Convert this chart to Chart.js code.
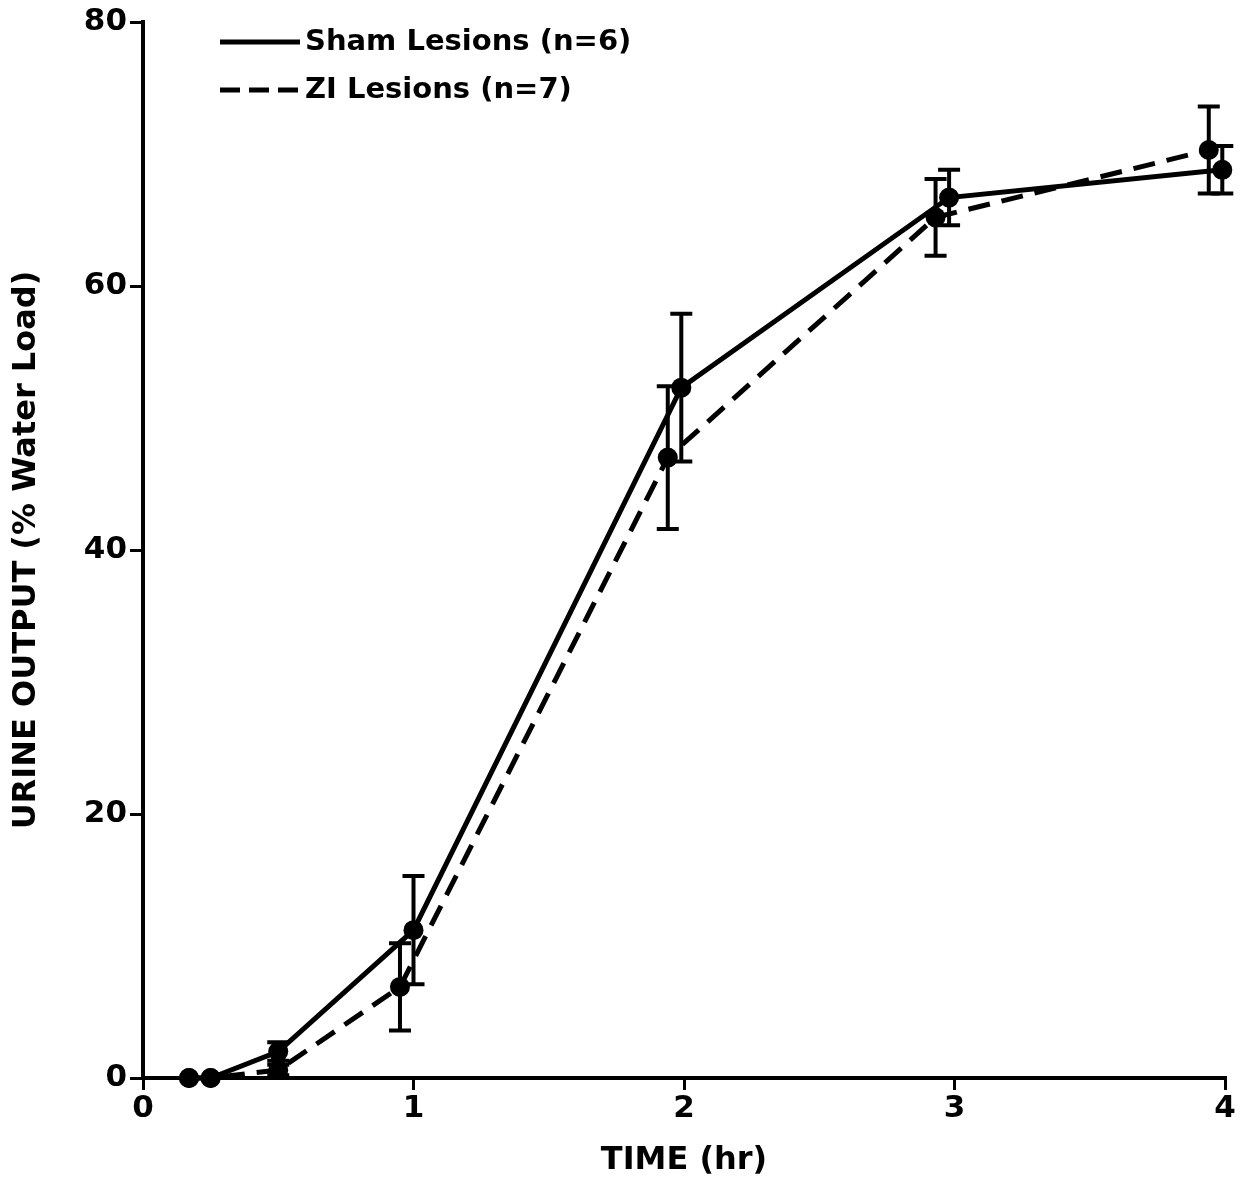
<!DOCTYPE html>
<html>
<head>
<meta charset="utf-8">
<script src="https://cdn.jsdelivr.net/npm/chart.js@4.4.0/dist/chart.umd.min.js"></script>
<style>
  html, body { margin: 0; padding: 0; background: #fff; }
  #wrap { width: 1241px; height: 1184px; }
</style>
</head>
<body>
<div id="wrap"><canvas id="chart"></canvas></div>
<script>
// values (time in hr, output in % water load)
const shamX   = [0.17, 0.25, 0.5, 1.0, 1.99, 2.98, 3.99];
const shamY   = [0, 0, 2.0, 11.2, 52.3, 66.7, 68.8];
const shamErr = [0, 0, 0.7, 4.1, 5.6, 2.1, 1.8];

const ziX   = [0.17, 0.25, 0.5, 0.95, 1.94, 2.93, 3.94];
const ziY   = [0, 0, 0.6, 6.9, 47.0, 65.2, 70.3];
const ziErr = [0, 0, 0.4, 3.3, 5.4, 2.9, 3.3];

const xTicks = [0, 1, 2, 3, 4];
const yTicks = [0, 20, 40, 60, 80];

const seriesNames = ['Sham Lesions (n=6)', 'ZI Lesions (n=7)'];

const FONT = '"DejaVu Sans", "Liberation Sans", sans-serif';
const INK = '#000';

function pts(xs, ys){ return xs.map((x, i) => ({ x: x, y: ys[i] })); }

// vertical error bars with caps, drawn through the scales
const errorBars = {
  id: 'errorBars',
  afterDatasetsDraw(chart){
    const ctx = chart.ctx;
    const xs = chart.scales.x, ys = chart.scales.y;
    chart.data.datasets.forEach(ds => {
      if (!ds.err) return;
      ctx.save();
      ctx.strokeStyle = INK;
      ctx.lineWidth = 4;
      ctx.setLineDash([]);
      ds.data.forEach((p, i) => {
        const e = ds.err[i];
        if (!e) return;
        const px = xs.getPixelForValue(p.x);
        const top = ys.getPixelForValue(p.y + e);
        const bot = ys.getPixelForValue(p.y - e);
        ctx.beginPath();
        ctx.moveTo(px, top); ctx.lineTo(px, bot);
        ctx.moveTo(px - 11, top); ctx.lineTo(px + 11, top);
        ctx.moveTo(px - 11, bot); ctx.lineTo(px + 11, bot);
        ctx.stroke();
      });
      ctx.restore();
    });
  }
};

// legend in the top-left corner, like the figure
const cornerLegend = {
  id: 'cornerLegend',
  afterDraw(chart){
    const ctx = chart.ctx;
    ctx.save();
    ctx.fillStyle = INK;
    ctx.strokeStyle = INK;
    ctx.lineWidth = 5;
    ctx.font = 'bold 29px ' + FONT;
    ctx.textBaseline = 'middle';
    ctx.textAlign = 'left';
    const rows = [{ y: 42, dash: [] }, { y: 90, dash: [20, 9] }];
    rows.forEach((r, i) => {
      ctx.setLineDash(r.dash);
      ctx.beginPath();
      ctx.moveTo(220, r.y); ctx.lineTo(300, r.y);
      ctx.stroke();
      ctx.fillText(seriesNames[i], 305, r.y);
    });
    ctx.restore();
  }
};

new Chart(document.getElementById('chart'), {
  type: 'line',
  data: {
    datasets: [
      {
        label: seriesNames[0],
        data: pts(shamX, shamY),
        err: shamErr,
        borderColor: INK,
        backgroundColor: INK,
        borderWidth: 5,
        pointRadius: 10,
        pointBackgroundColor: INK,
        pointBorderWidth: 0,
        tension: 0,
        clip: false
      },
      {
        label: seriesNames[1],
        data: pts(ziX, ziY),
        err: ziErr,
        borderColor: INK,
        backgroundColor: INK,
        borderWidth: 5,
        borderDash: [22, 12],
        pointRadius: 10,
        pointBackgroundColor: INK,
        pointBorderWidth: 0,
        tension: 0,
        clip: false
      }
    ]
  },
  options: {
    responsive: true,
    maintainAspectRatio: false,
    animation: false,
    layout: { padding: { top: 22, right: 16, left: 0, bottom: 0 } },
    plugins: { legend: { display: false }, tooltip: { enabled: false } },
    scales: {
      x: {
        type: 'linear',
        min: 0, max: 4,
        afterBuildTicks: s => { s.ticks = xTicks.map(v => ({ value: v })); },
        afterFit: s => { s.height = 106; },
        border: { display: true, color: INK, width: 4 },
        grid: { drawOnChartArea: false, drawTicks: true, tickLength: 12, color: INK, lineWidth: 3 },
        ticks: { color: INK, font: { family: FONT, size: 31, weight: 'bold' }, padding: 0, maxRotation: 0 },
        title: { display: true, text: 'TIME (hr)', color: INK, font: { family: FONT, size: 32, weight: 'bold' }, padding: { top: 8, bottom: 4 } }
      },
      y: {
        type: 'linear',
        min: 0, max: 80,
        afterBuildTicks: s => { s.ticks = yTicks.map(v => ({ value: v })); },
        afterFit: s => { s.width = 143; },
        border: { display: true, color: INK, width: 4 },
        grid: { drawOnChartArea: false, drawTicks: true, tickLength: 13, color: INK, lineWidth: 3 },
        ticks: { color: INK, font: { family: FONT, size: 31, weight: 'bold' }, padding: 3 },
        title: { display: true, text: 'URINE OUTPUT (% Water Load)', color: INK, font: { family: FONT, size: 32, weight: 'bold' }, padding: { top: 7, bottom: 4 } }
      }
    }
  },
  plugins: [errorBars, cornerLegend]
});
</script>
</body>
</html>
